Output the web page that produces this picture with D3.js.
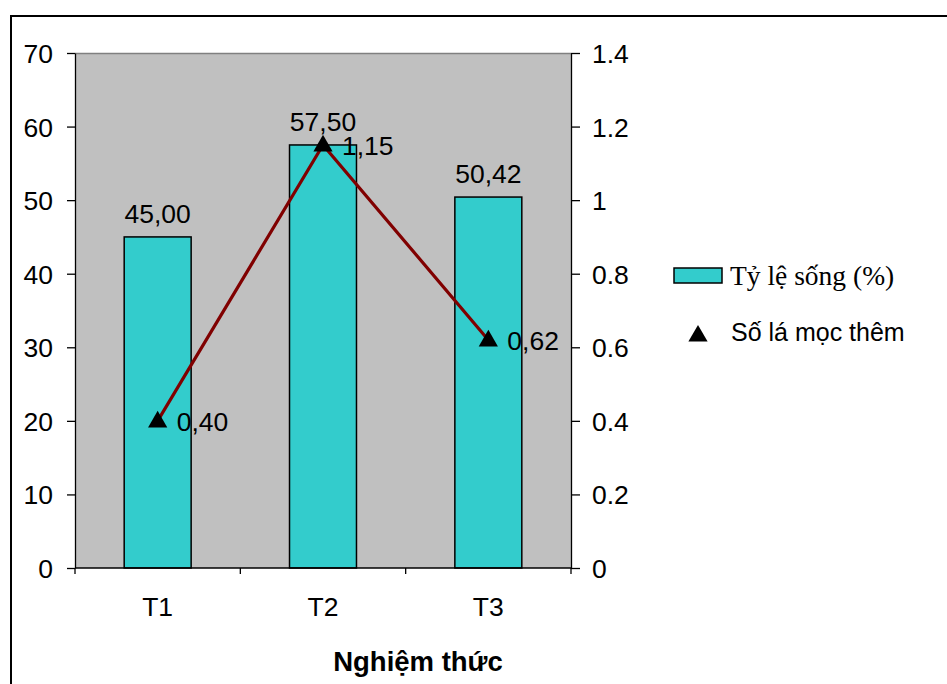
<!DOCTYPE html>
<html>
<head>
<meta charset="utf-8">
<script src="https://cdn.jsdelivr.net/npm/d3@7"></script>
<style>
  html, body { margin: 0; padding: 0; background: #fff; }
  svg { display: block; }
  text { font-family: "Liberation Sans", Arial, sans-serif; fill: #000; }
</style>
</head>
<body>
<svg id="chart" width="947" height="684"></svg>
<script>
// Treatments and measured values
const categories = ["T1", "T2", "T3"];
const survivalRate = [45.00, 57.50, 50.42];      // Tỷ lệ sống (%)
const newLeaves = [0.40, 1.15, 0.62];            // Số lá mọc thêm
const leftTicks = [0, 10, 20, 30, 40, 50, 60, 70];
const rightTicks = [0, 0.2, 0.4, 0.6, 0.8, 1, 1.2, 1.4];
const seriesNames = ["Tỷ lệ sống (%)", "Số lá mọc thêm"];
const xTitle = "Nghiệm thức";

const svg = d3.select("#chart");
const plot = { left: 75, right: 571, top: 53, bottom: 568 };
const numSize = "26.5px";

const comma = (v) => v.toFixed(2).replace(".", ",");

// Outer frame
svg.append("rect")
  .attr("x", 11).attr("y", 16)
  .attr("width", 1000).attr("height", 1000)
  .attr("fill", "none").attr("stroke", "#000").attr("stroke-width", 2);

const x = d3.scaleBand().domain(categories).range([plot.left, plot.right]);
const yL = d3.scaleLinear().domain([0, 70]).range([plot.bottom, plot.top]);
const yR = d3.scaleLinear().domain([0, 1.4]).range([plot.bottom, plot.top]);

// Plot background
svg.append("rect")
  .attr("x", plot.left).attr("y", plot.top)
  .attr("width", plot.right - plot.left).attr("height", plot.bottom - plot.top)
  .attr("fill", "#c0c0c0");
svg.append("line")
  .attr("x1", plot.left).attr("x2", plot.right)
  .attr("y1", plot.top + 0.5).attr("y2", plot.top + 0.5)
  .attr("stroke", "#808080").attr("stroke-width", 1.5);

// Bars
const barW = x.bandwidth() * 0.405;
svg.append("g").selectAll("rect")
  .data(categories)
  .join("rect")
  .attr("x", (d) => x(d) + x.bandwidth() / 2 - barW / 2)
  .attr("y", (d, i) => yL(survivalRate[i]))
  .attr("width", barW)
  .attr("height", (d, i) => yL(0) - yL(survivalRate[i]))
  .attr("fill", "#33cccc")
  .attr("stroke", "#000")
  .attr("stroke-width", 1.5);

// Axes
const styleAxis = (g) => {
  g.select(".domain").attr("stroke", "#000").attr("stroke-width", 1.3);
  g.selectAll(".tick line").attr("stroke", "#000").attr("stroke-width", 1.3);
  g.selectAll(".tick text").style("font-size", numSize).style("font-family", "'Liberation Sans', Arial, sans-serif");
};

svg.append("g")
  .attr("transform", `translate(${plot.left},0)`)
  .call(d3.axisLeft(yL).tickValues(leftTicks).tickSize(8).tickSizeOuter(0).tickPadding(14).tickFormat(d3.format("d")))
  .call(styleAxis)
  .call((g) => g.selectAll(".tick text").attr("dy", "0.36em"));

svg.append("g")
  .attr("transform", `translate(${plot.right},0)`)
  .call(d3.axisRight(yR).tickValues(rightTicks).tickSize(9).tickSizeOuter(0).tickPadding(12).tickFormat((d) => String(+d.toFixed(1))))
  .call(styleAxis)
  .call((g) => g.selectAll(".tick text").attr("dy", "0.36em"));

const xAxis = svg.append("g").attr("transform", `translate(0,${plot.bottom})`);
xAxis.append("line")
  .attr("x1", plot.left).attr("x2", plot.right)
  .attr("stroke", "#000").attr("stroke-width", 1.3);
const bounds = categories.map((c) => x(c)).concat([plot.right]);
xAxis.selectAll("line.tk")
  .data(bounds)
  .join("line")
  .attr("class", "tk")
  .attr("x1", (d) => d).attr("x2", (d) => d)
  .attr("y1", 0).attr("y2", 6)
  .attr("stroke", "#000").attr("stroke-width", 1.3);
xAxis.selectAll("text")
  .data(categories)
  .join("text")
  .attr("x", (d) => x(d) + x.bandwidth() / 2)
  .attr("y", 48)
  .attr("text-anchor", "middle")
  .style("font-size", numSize)
  .text((d) => d);

// Bar value labels
svg.append("g").selectAll("text")
  .data(categories)
  .join("text")
  .attr("x", (d) => x(d) + x.bandwidth() / 2)
  .attr("y", (d, i) => yL(survivalRate[i]) - 14)
  .attr("text-anchor", "middle")
  .style("font-size", numSize)
  .text((d, i) => comma(survivalRate[i]));

// Line series on the right axis
const line = d3.line()
  .x((d, i) => x(categories[i]) + x.bandwidth() / 2)
  .y((d) => yR(d));
svg.append("path")
  .datum(newLeaves)
  .attr("d", line)
  .attr("fill", "none")
  .attr("stroke", "#800000")
  .attr("stroke-width", 3.2);

const tri = d3.symbol().type(d3.symbolTriangle).size(160);
svg.append("g").selectAll("path")
  .data(newLeaves)
  .join("path")
  .attr("transform", (d, i) => `translate(${x(categories[i]) + x.bandwidth() / 2},${yR(d) + 1})`)
  .attr("d", tri)
  .attr("fill", "#000");

svg.append("g").selectAll("text")
  .data(newLeaves)
  .join("text")
  .attr("x", (d, i) => x(categories[i]) + x.bandwidth() / 2 + 19)
  .attr("y", (d) => yR(d) + 10)
  .style("font-size", numSize)
  .text((d) => comma(d));

// Legend
const legend = svg.append("g");
legend.append("rect")
  .attr("x", 674).attr("y", 268)
  .attr("width", 48).attr("height", 15)
  .attr("fill", "#33cccc").attr("stroke", "#000").attr("stroke-width", 1.5);
legend.append("text")
  .attr("x", 730).attr("y", 285)
  .style("font-family", "'Liberation Serif', 'Times New Roman', serif")
  .style("font-size", "27.5px")
  .text(seriesNames[0]);
legend.append("path")
  .attr("transform", "translate(698,336)")
  .attr("d", tri)
  .attr("fill", "#000");
legend.append("text")
  .attr("x", 731).attr("y", 341)
  .style("font-size", "25px")
  .text(seriesNames[1]);

// Axis title
svg.append("text")
  .attr("x", (plot.left + plot.right) / 2 + 95)
  .attr("y", 671)
  .attr("text-anchor", "middle")
  .style("font-size", "27.5px")
  .style("font-weight", "bold")
  .text(xTitle);
</script>
</body>
</html>
